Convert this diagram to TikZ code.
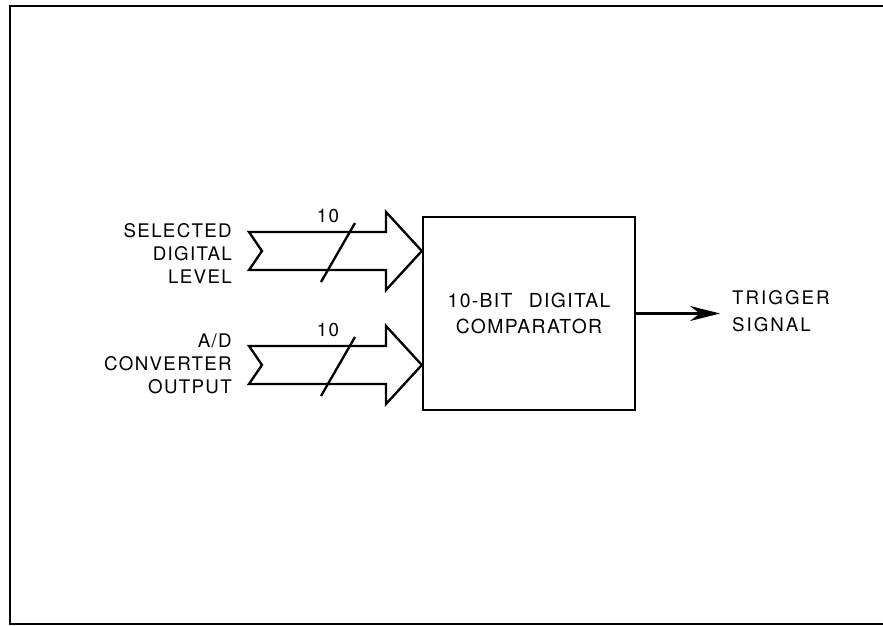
\documentclass[tikz,border=0pt]{standalone}
\usepackage{fontspec}
\usetikzlibrary{arrows.meta}
\newfontfamily\lblfont[LetterSpace=7]{TeX Gyre Heros}
\newfontfamily\cmpfont[LetterSpace=7]{TeX Gyre Heros}
\newfontfamily\trigfont[LetterSpace=11]{TeX Gyre Heros}
\tikzset{
	bus/.style={line width=2pt, line join=miter},
	sig/.style={line width=2pt, -{Stealth[length=0.9cm,width=0.45cm]}},
	lbl/.style={font=\lblfont\fontsize{16}{19.6}\selectfont, inner sep=0pt}
}
\begin{document}
\begin{tikzpicture}[x=0.03cm, y=-0.03cm]
	\useasboundingbox (0,0) rectangle (883,626);
	% frame
	\draw[line width=1.8pt] (883,6) -- (10,6) -- (10,624) -- (883,624);
	
	% comparator
	\node[draw, line width=2pt, minimum width=6.36cm, minimum height=5.79cm,
	align=center, font=\cmpfont\fontsize{16.5}{22}\selectfont]
	(cmp) at (529,313.5) {10-BIT\hspace{0.5em} DIGITAL\\COMPARATOR};
	
	% inputs
	\node[lbl, anchor=east, align=right] (sel) at (232,253.5) {SELECTED\\DIGITAL\\LEVEL};
	\node[lbl, anchor=east, align=right] (adc) at (232,363.5) {A/D\\CONVERTER\\OUTPUT};
	
	\foreach \c/\n in {251/selbus, 365/adcbus}
	{
		% bus arrows
		\draw[bus] (249,\c-19) -- (386,\c-19) -- (386,\c-39) -- (cmp.west |- 0,\c)
		-- (386,\c+39) -- (386,\c+19) -- (249,\c+19) -- (262,\c) -- cycle;
		% bit count
		\draw[line width=2pt] (321,\c+31) -- (355,\c-28);
		\node[lbl] (\n) at (328,\c-35) {10};
	}
	
	% output
	\node[lbl, font=\trigfont\fontsize{16}{23}\selectfont, anchor=west, align=left,
	outer xsep=0.36cm] (trig) at (720,311.5) {TRIGGER\\SIGNAL};
	\draw[sig] (cmp.east) -- (cmp.east -| trig.west);
\end{tikzpicture}
\end{document}
